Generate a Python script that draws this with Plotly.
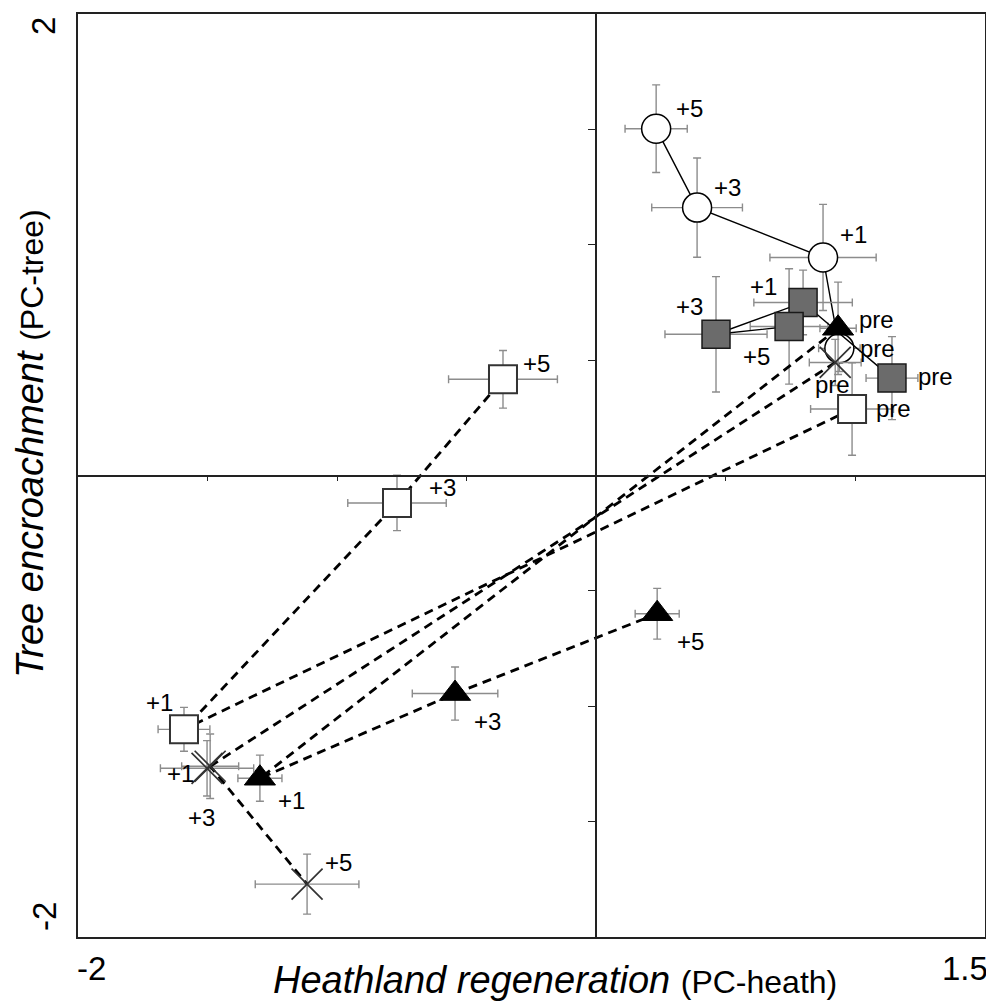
import plotly.graph_objects as go

stages = ["pre", "+1", "+3", "+5"]

# open circles (solid line)
circ_x = [0.938, 0.875, 0.389, 0.231]
circ_y = [0.551, 0.945, 1.161, 1.503]
circ_ex = [0.08, 0.205, 0.175, 0.12]
circ_ey = [0.10, 0.23, 0.215, 0.19]

# grey squares (solid line)
grey_x = [1.141, 0.798, 0.462, 0.744]
grey_y = [0.422, 0.750, 0.612, 0.646]
grey_ex = [0.10, 0.19, 0.197, 0.15]
grey_ey = [0.18, 0.14, 0.25, 0.25]

# black triangles (dashed line)
tri_x = [0.933, -1.298, -0.545, 0.235]
tri_y = [0.638, -1.312, -0.945, -0.599]
tri_ex = [0.07, 0.085, 0.165, 0.085]
tri_ey = [0.20, 0.10, 0.115, 0.11]

# open squares (dashed line)
sq_x = [0.987, -1.591, -0.769, -0.360]
sq_y = [0.288, -1.100, -0.119, 0.417]
sq_ex = [0.16, 0.10, 0.19, 0.21]
sq_ey = [0.20, 0.095, 0.12, 0.125]

# crosses (dashed line)
cr_x = [0.922, -1.502, -1.490, -1.116]
cr_y = [0.490, -1.269, -1.260, -1.771]
cr_ex = [0.10, 0.18, 0.11, 0.20]
cr_ey = [0.10, 0.12, 0.14, 0.13]

x_range = [-2, 1.5]
y_range = [-2, 2]
y_ticks = [-1.5, -1, -0.5, 0.5, 1, 1.5]
x_ticks = [-1.5, -1, -0.5, 0.5, 1]

ERR = "#8c8c8c"
fig = go.Figure()


def add_series(xs, ys, exs, eys, marker, line):
    fig.add_trace(go.Scatter(
        x=xs, y=ys, mode="lines+markers", showlegend=False, hoverinfo="skip",
        line=line, marker=marker,
        error_x=dict(type="data", array=exs, color=ERR, thickness=1.4, width=4),
        error_y=dict(type="data", array=eys, color=ERR, thickness=1.4, width=4),
    ))


solid = dict(color="black", width=1.4)
dashed = dict(color="black", width=2.8, dash="9px,6px")

add_series(circ_x, circ_y, circ_ex, circ_ey,
           dict(symbol="circle", size=29, color="white", line=dict(color="black", width=1.5)), solid)
add_series(grey_x, grey_y, grey_ex, grey_ey,
           dict(symbol="square", size=28, color="#6b6b6b", line=dict(color="#1a1a1a", width=1.5)), solid)
add_series(sq_x, sq_y, sq_ex, sq_ey,
           dict(symbol="square", size=28, color="white", line=dict(color="#333333", width=2)), dashed)
add_series(tri_x, tri_y, tri_ex, tri_ey,
           dict(symbol="triangle-up", size=27, color="black", line=dict(color="black", width=1)), dashed)
add_series(cr_x, cr_y, cr_ex, cr_ey,
           dict(symbol="x-thin", size=31, color="#333333", line=dict(color="#333333", width=1.7)), dashed)

# dummy trace for the zero-crossing axes
fig.add_trace(go.Scatter(x=[], y=[], xaxis="x2", yaxis="y2", showlegend=False, hoverinfo="skip"))

# point labels (pixel offsets)
label_sets = [
    (circ_x, circ_y, [(38, 0), (30, 23), (30, 20), (33, 20)]),
    (grey_x, grey_y, [(44, 2), (-40, 16), (-27, 28), (-33, -30)]),
    (tri_x, tri_y, [(38, 9), (32, -22), (32, -28), (33, -28)]),
    (sq_x, sq_y, [(41, 1), (-24, 27), (45, 15), (34, 16)]),
    (cr_x, cr_y, [(-3, -22), (-27, -5), (-9, -51), (31, 22)]),
]
for xs, ys, offs in label_sets:
    for xv, yv, s, (dx, dy) in zip(xs, ys, stages, offs):
        fig.add_annotation(x=xv, y=yv, text=s, showarrow=False, xshift=dx, yshift=dy,
                           xanchor="center", yanchor="middle",
                           font=dict(family="Liberation Sans, Arial, sans-serif", size=24, color="black"))

fam = "Liberation Sans, Arial, sans-serif"
# axis end labels
for x, y, t, ang in [(0.0154, -0.034, "-2", 0), (0.978, -0.034, "1.5", 0),
                     (-0.0375, 0.987, "2", -90), (-0.0375, 0.0227, "-2", -90)]:
    fig.add_annotation(xref="paper", yref="paper", x=x, y=y, text=t, showarrow=False,
                       textangle=ang, xanchor="center", yanchor="middle",
                       font=dict(family=fam, size=33, color="black"))
# axis titles
fig.add_annotation(xref="paper", yref="paper", x=0.526, y=-0.047, showarrow=False,
                   xanchor="center", yanchor="middle",
                   text="<i>Heathland regeneration</i> <span style='font-size:32px'>(PC-heath)</span>",
                   font=dict(family=fam, size=38, color="black"))
fig.add_annotation(xref="paper", yref="paper", x=-0.053, y=0.535, showarrow=False, textangle=-90,
                   xanchor="center", yanchor="middle",
                   text="<i>Tree encroachment</i> <span style='font-size:32px'>(PC-tree)</span>",
                   font=dict(family=fam, size=38, color="black"))

axis_common = dict(showgrid=False, zeroline=False, showline=True, linecolor="#222222", linewidth=1.5)
fig.update_layout(
    width=994, height=1005,
    margin=dict(l=70, r=17, t=4, b=76),
    plot_bgcolor="white", paper_bgcolor="white",
    xaxis=dict(range=x_range, mirror=True, ticks="", showticklabels=False, **axis_common),
    yaxis=dict(range=y_range, mirror=True, ticks="", showticklabels=False, **axis_common),
    xaxis2=dict(range=x_range, overlaying="x", anchor="free", position=0.5, ticks="outside",
                ticklen=5, tickcolor="#222222", tickvals=x_ticks, showticklabels=False, **axis_common),
    yaxis2=dict(range=y_range, overlaying="y", anchor="free", position=2 / 3.5, side="left",
                ticks="outside", ticklen=8, tickcolor="#222222", tickvals=y_ticks,
                showticklabels=False, **axis_common),
)

fig.write_html("out.html")
